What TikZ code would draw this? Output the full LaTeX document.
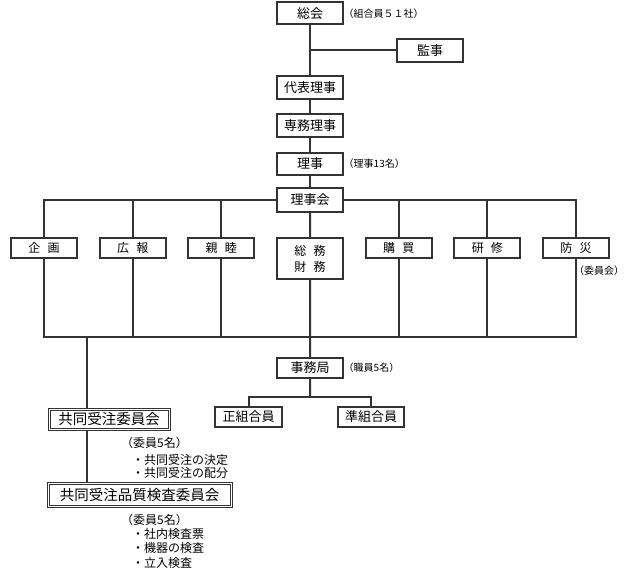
\documentclass[tikz,border=0pt]{standalone}
\usepackage{fontspec}
\newfontfamily\jp{Noto Sans CJK JP}
\definecolor{linegray}{HTML}{333333}
\tikzset{
  orgbox/.style={draw=linegray, line width=2pt, inner sep=0pt, minimum width=66pt, minimum height=22pt, font=\jp\fontsize{13}{15}\selectfont},
  deptbox/.style={orgbox, minimum height=20pt, align=center, font=\jp\fontsize{12}{16}\selectfont},
  cmtbox/.style={draw=linegray, line width=0.9pt, inner sep=0pt, font=\jp\fontsize{14.5}{16}\selectfont},
  cmtframe/.style={draw=linegray, line width=0.9pt},
  note/.style={anchor=west, inner sep=0pt, font=\jp\fontsize{10}{12}\selectfont},
  cmtnote/.style={anchor=west, inner sep=0pt, font=\jp\fontsize{12}{14}\selectfont},
  conn/.style={draw=linegray, line width=2pt}
}
\begin{document}
\begin{tikzpicture}[x=1pt,y=-1pt]
\useasboundingbox (0,0) rectangle (628,569);
\def\dx{88.67}
% chain of officers
\node[orgbox] (sokai) at (310,13.5) {総会};
\node[note] (sokai-n) at (343.5,14) {（組合員５１社）};
\node[orgbox,minimum height=23pt] (kanji) at (430,50.5) {監事};
\node[orgbox,minimum height=23pt] (daihyo) at (310,87.5) {代表理事};
\node[orgbox,minimum height=23pt] (senmu) at (310,125.5) {専務理事};
\node[orgbox] (riji) at (310,164) {理事};
\node[note] (riji-n) at (343.5,164) {（理事13名）};
\node[orgbox,minimum height=24pt] (rijikai) at (310,200) {理事会};
\draw[conn] (sokai) -- (daihyo) -- (senmu) -- (riji) -- (rijikai);
\draw[conn] (kanji.west) -- (kanji.west -| sokai);
% departments
\foreach \i/\t in {1/企\hspace{0.6em}画,2/広\hspace{0.6em}報,3/親\hspace{0.6em}睦,5/購\hspace{0.6em}買,6/研\hspace{0.6em}修,7/防\hspace{0.6em}災} {
  \node[deptbox] (d\i) at ({44+(\i-1)*\dx},248) {\t};
}
\node[deptbox,minimum height=41pt,anchor=north] (d4) at ({44+3*\dx},237) {総\hspace{0.6em}務\\財\hspace{0.6em}務};
\node[note] (d7-n) at (574,271) {（委員会）};
\draw[conn] (d1.north) |- (rijikai.west);
\draw[conn] (d7.north) |- (rijikai.east);
\draw[conn] (rijikai) -- (d4);
\coordinate (bus) at (0,337);
\draw[conn] (d1.south) -- (d1.south |- bus) -- (d7.south |- bus) -- (d7.south);
\foreach \i in {2,3,5,6} {
  \draw[conn] (d\i.north) -- (d\i.north |- rijikai);
  \draw[conn] (d\i.south) -- (d\i.south |- bus);
}
% office
\node[orgbox,minimum height=20pt] (jimu) at (310,368) {事務局};
\node[note] (jimu-n) at (343.5,368) {（職員5名）};
\coordinate (fork) at (310,397);
\node[orgbox,minimum height=20pt,minimum width=67pt] (sei) at (248.5,417) {正組合員};
\node[orgbox,minimum height=20pt] (jun) at (371,417) {準組合員};
\draw[conn] (d4) -- (jimu) -- (fork);
\draw[conn] (sei.north) |- (fork) -| (jun.north);
% committees
\node[cmtbox,minimum width=122pt,minimum height=22pt] (kyodo) at (109,419) {共同受注委員会};
\node[cmtbox,minimum width=185pt,minimum height=25pt] (hinshitsu) at (139.5,494.5) {共同受注品質検査委員会};
\foreach \c in {kyodo,hinshitsu} {
  \draw[cmtframe] ([shift={(2.5pt,-2.5pt)}]\c.north west) rectangle ([shift={(-2.5pt,2.5pt)}]\c.south east);
}
\coordinate (cbus) at (87,337);
\draw[conn] (cbus) -- (cbus |- kyodo.north);
\draw[conn] (kyodo.south -| cbus) -- (cbus |- hinshitsu.north);
\node[cmtnote] (kyodo-n0) at (121,443) {（委員5名）};
\node[cmtnote] (kyodo-n1) at (132,460) {・共同受注の決定};
\node[cmtnote] (kyodo-n2) at (132,473) {・共同受注の配分};
\node[cmtnote] (hinshitsu-n0) at (121,520) {（委員5名）};
\node[cmtnote] (hinshitsu-n1) at (132,533.5) {・社内検査票};
\node[cmtnote] (hinshitsu-n2) at (132,548) {・機器の検査};
\node[cmtnote] (hinshitsu-n3) at (132,563) {・立入検査};
\end{tikzpicture}
\end{document}
